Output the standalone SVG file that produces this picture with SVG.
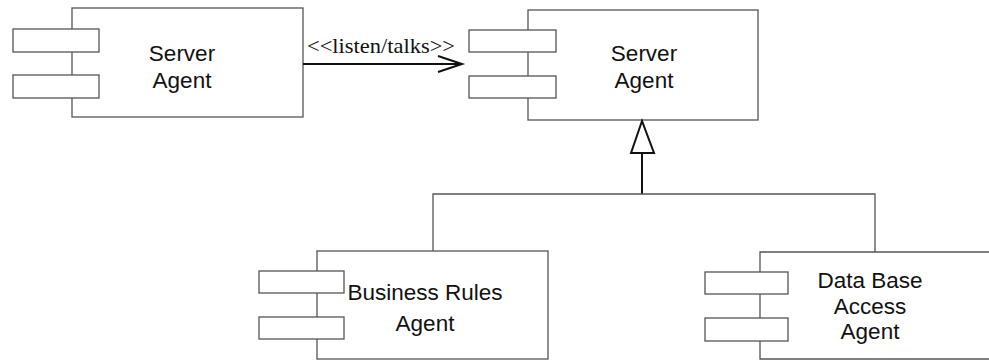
<svg xmlns="http://www.w3.org/2000/svg" width="989" height="362" viewBox="0 0 989 362">
<style>
.box{fill:#fff;stroke:#555;stroke-width:1.3}
.lbl{font-family:"Liberation Sans",Arial,sans-serif;font-size:22.5px;fill:#111;text-anchor:middle}
.ser{font-family:"Liberation Serif","Times New Roman",serif;font-size:21px;fill:#111}
.conn{fill:none;stroke:#111;stroke-width:2}
.thin{fill:none;stroke:#555;stroke-width:1.3}
</style>
<rect width="989" height="362" fill="#fff"/>
<g id="server1">
<rect class="box" x="72" y="8" width="231" height="109"/>
<rect class="box" x="13" y="29" width="86" height="23"/>
<rect class="box" x="13" y="75" width="86" height="23"/>
<text class="lbl" x="182" y="61">Server</text>
<text class="lbl" x="182" y="88">Agent</text>
</g>
<g id="server2">
<rect class="box" x="528" y="10" width="230" height="110"/>
<rect class="box" x="469" y="30" width="87" height="22"/>
<rect class="box" x="469" y="76" width="87" height="22"/>
<text class="lbl" x="644" y="61">Server</text>
<text class="lbl" x="644" y="88">Agent</text>
</g>
<g id="business">
<rect class="box" x="317" y="251" width="231" height="108"/>
<rect class="box" x="259" y="271" width="85" height="22"/>
<rect class="box" x="259" y="317" width="85" height="22"/>
<text class="lbl" x="425" y="300">Business Rules</text>
<text class="lbl" x="425" y="331">Agent</text>
</g>
<g id="database">
<path class="box" d="M995,252 H760 V359 H995"/>
<rect class="box" x="705" y="272" width="83" height="22"/>
<rect class="box" x="705" y="318" width="83" height="23"/>
<text class="lbl" x="870" y="288">Data Base</text>
<text class="lbl" x="870" y="314">Access</text>
<text class="lbl" x="870" y="339">Agent</text>
</g>
<g id="connectors">
<line class="conn" x1="303" y1="64" x2="462" y2="64"/>
<polyline class="conn" points="438,56 462,64 438,72"/>
<text class="ser" x="307" y="53" textLength="148" lengthAdjust="spacingAndGlyphs">&lt;&lt;listen/talks&gt;&gt;</text>
<polygon points="642,121 631,153 654,153" fill="#fff" stroke="#111" stroke-width="2" stroke-linejoin="miter"/>
<line class="conn" x1="642" y1="153" x2="642" y2="194"/>
<polyline class="thin" points="433,251 433,194 875,194 875,252"/>
</g>
</svg>
